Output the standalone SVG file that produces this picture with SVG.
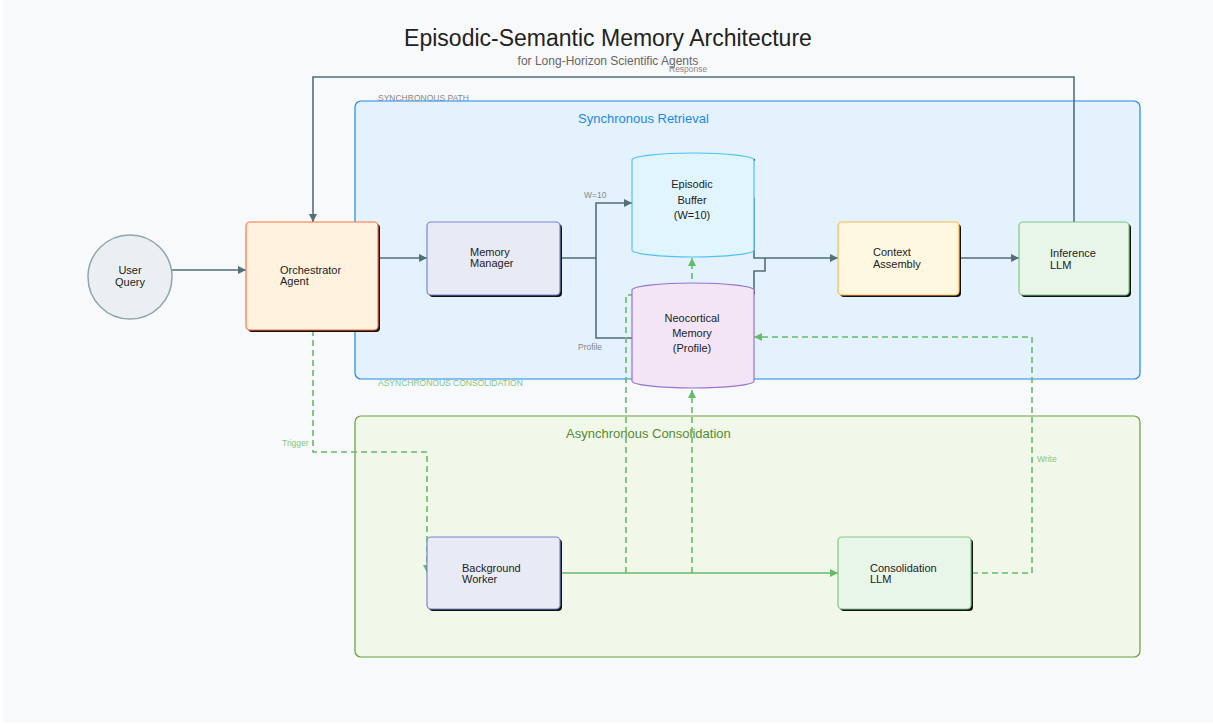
<svg xmlns="http://www.w3.org/2000/svg" width="1213" height="726" viewBox="0 0 1213 726">
<defs>
<style>
.t{font-family:"Liberation Sans",Arial,sans-serif;fill:#222}
.n{font-size:11px}
.s{font-size:8.5px;fill:#888}
.g{font-size:8.5px;fill:#81c784}
.e{fill:none;stroke:#546e7a;stroke-width:1.6}
.eg{fill:none;stroke:#66bb6a;stroke-width:1.6}
.d{stroke-dasharray:6,4}
.sh{fill:#111}
</style>
<marker id="ah" viewBox="0 0 8 8" refX="8" refY="4" markerWidth="8" markerHeight="8" markerUnits="userSpaceOnUse" orient="auto"><path d="M0,0 L8,4 L0,8 z" fill="#546e7a"/></marker>
<marker id="ag" viewBox="0 0 8 8" refX="8" refY="4" markerWidth="8" markerHeight="8" markerUnits="userSpaceOnUse" orient="auto"><path d="M0,0 L8,4 L0,8 z" fill="#66bb6a"/></marker>
</defs>
<rect x="0" y="0" width="1213" height="726" fill="#ffffff"/>
<rect x="3" y="0" width="1210" height="723" fill="#f8f9fa"/>

<text class="t" x="608" y="46" font-size="23" text-anchor="middle" fill="#222">Episodic-Semantic Memory Architecture</text>
<text class="t" x="608" y="65" font-size="12" text-anchor="middle" style="fill:#666">for Long-Horizon Scientific Agents</text>

<g id="cluster-sync">
<rect x="355" y="101" width="785" height="278" rx="6" fill="#e3f2fd" stroke="#1e88e5" stroke-width="1.2"/>
<text class="t" x="578" y="123" font-size="13" style="fill:#1e88e5">Synchronous Retrieval</text>
<text class="t s" x="378" y="101">SYNCHRONOUS PATH</text>
</g>
<g id="cluster-async">
<rect x="355" y="416" width="785" height="241" rx="6" fill="#f1f8e9" stroke="#689f38" stroke-width="1.2"/>
<text class="t" x="566" y="438" font-size="13" style="fill:#558b2f">Asynchronous Consolidation</text>
<text class="t g" x="378" y="386">ASYNCHRONOUS CONSOLIDATION</text>
</g>

<g id="connectors">
<path class="e" d="M172,270 H246" marker-end="url(#ah)"/>
<path class="e" d="M378,258 H427" marker-end="url(#ah)"/>
<path class="e" d="M560,258 H596 V203 H632" marker-end="url(#ah)"/>
<text class="t s" x="584" y="198">W=10</text>
<path class="e" d="M596,258 V338 H632"/>
<text class="t s" x="578" y="350">Profile</text>
<path class="e" d="M754,198 V258 H838" marker-end="url(#ah)"/>
<path class="e" d="M754,293 V271 H765 V258"/>
<circle cx="754" cy="160" r="1.2" fill="#333"/>
<circle cx="754" cy="293" r="1.2" fill="#333"/>
<path class="e" d="M959,258 H1019" marker-end="url(#ah)"/>
<path class="e" d="M1074,222 V77 H313 V222" marker-end="url(#ah)"/>
<text class="t s" x="669" y="72">Response</text>

<path class="eg d" d="M313,330 V452 H427 V573" marker-end="url(#ag)"/>
<text class="t g" x="282" y="446">Trigger</text>
<path class="eg" d="M560,573 H838" marker-end="url(#ag)"/>
<path class="eg d" d="M626,573 V295 H692 V258" marker-end="url(#ag)"/>
<path class="eg d" d="M692,573 V390" marker-end="url(#ag)"/>
<path class="eg d" d="M972,573 H1032 V337 H754" marker-end="url(#ag)"/>
<text class="t g" x="1037" y="462">Write</text>
</g>

<g id="user-query">
<circle cx="130" cy="277" r="42" fill="#eceff1" stroke="#90a4ae" stroke-width="1.5"/>
<text class="t n" x="130" y="274" text-anchor="middle">User</text>
<text class="t n" x="130" y="286" text-anchor="middle">Query</text>
</g>

<g id="orchestrator">
<rect class="sh" x="248" y="224" width="132" height="108" rx="4"/>
<rect x="246" y="222" width="132" height="108" rx="4" fill="#fff3e0" stroke="#ff7043" stroke-width="1.2"/>
<text class="t n" x="280" y="274">Orchestrator</text>
<text class="t n" x="280" y="285">Agent</text>
</g>

<g id="memory-manager">
<rect class="sh" x="429" y="224" width="133" height="73" rx="4"/>
<rect x="427" y="222" width="133" height="73" rx="4" fill="#e8eaf6" stroke="#7986cb" stroke-width="1.2"/>
<text class="t n" x="470" y="256">Memory</text>
<text class="t n" x="470" y="267">Manager</text>
</g>

<g id="episodic-buffer">
<path d="M632,160 A61,7 0 0 1 754,160 L754,250 A61,7 0 0 1 632,250 Z" fill="#e1f5fe" stroke="#4fc3f7" stroke-width="1.2"/>
<text class="t n" x="692" y="188" text-anchor="middle">Episodic</text>
<text class="t n" x="692" y="204" text-anchor="middle">Buffer</text>
<text class="t n" x="692" y="219" text-anchor="middle">(W=10)</text>
</g>

<g id="neocortical-memory">
<path d="M632,290 A61,7 0 0 1 754,290 L754,381 A61,7 0 0 1 632,381 Z" fill="#f3e5f5" stroke="#9575cd" stroke-width="1.2"/>
<text class="t n" x="692" y="322" text-anchor="middle">Neocortical</text>
<text class="t n" x="692" y="337" text-anchor="middle">Memory</text>
<text class="t n" x="692" y="352" text-anchor="middle">(Profile)</text>
</g>

<g id="context-assembly">
<rect class="sh" x="840" y="224" width="121" height="73" rx="4"/>
<rect x="838" y="222" width="121" height="73" rx="4" fill="#fff8e1" stroke="#ffb74d" stroke-width="1.2"/>
<text class="t n" x="873" y="256">Context</text>
<text class="t n" x="873" y="268">Assembly</text>
</g>

<g id="inference-llm">
<rect class="sh" x="1021" y="224" width="110" height="73" rx="4"/>
<rect x="1019" y="222" width="110" height="73" rx="4" fill="#e8f5e9" stroke="#81c784" stroke-width="1.2"/>
<text class="t n" x="1050" y="257">Inference</text>
<text class="t n" x="1050" y="269">LLM</text>
</g>

<g id="background-worker">
<rect class="sh" x="429" y="539" width="133" height="72" rx="4"/>
<rect x="427" y="537" width="133" height="72" rx="4" fill="#e8eaf6" stroke="#7986cb" stroke-width="1.2"/>
<text class="t n" x="462" y="572">Background</text>
<text class="t n" x="462" y="583">Worker</text>
</g>

<g id="consolidation-llm">
<rect class="sh" x="840" y="539" width="133" height="72" rx="4"/>
<rect x="838" y="537" width="133" height="72" rx="4" fill="#e8f5e9" stroke="#81c784" stroke-width="1.2"/>
<text class="t n" x="870" y="572">Consolidation</text>
<text class="t n" x="870" y="583">LLM</text>
</g>
</svg>
